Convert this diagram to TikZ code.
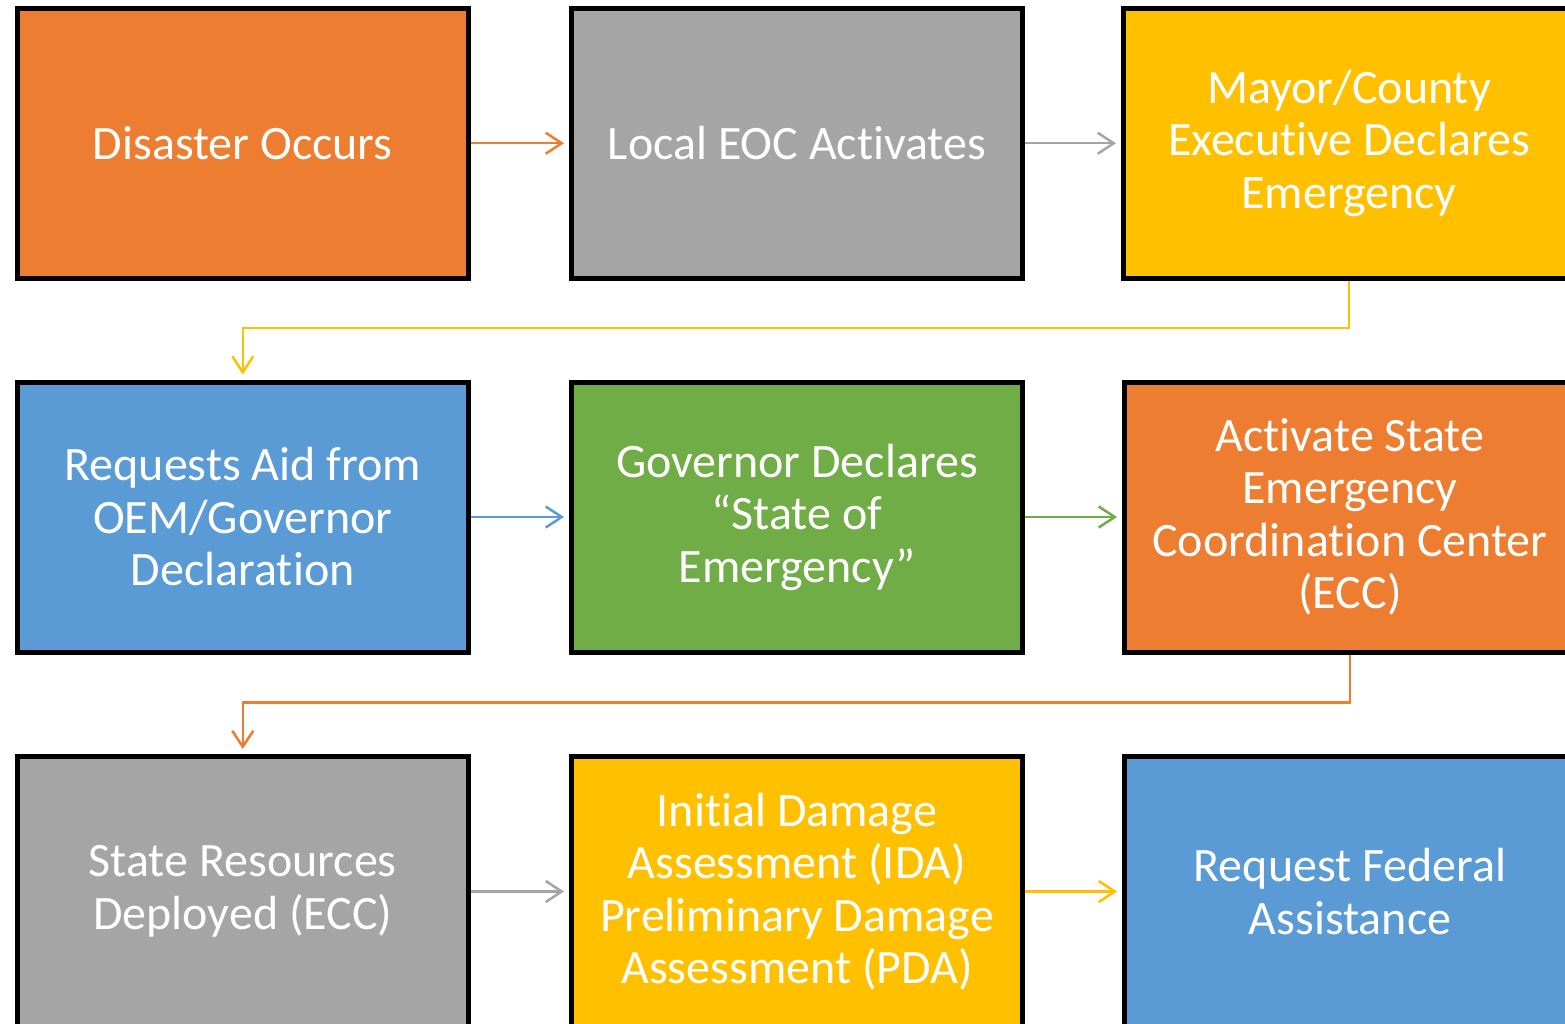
\documentclass[tikz,border=0pt]{standalone}
\usepackage{fontspec}
\setmainfont{Carlito}[Ligatures=NoCommon]
\usetikzlibrary{arrows.meta}
\definecolor{boxorange}{HTML}{ED7D31}
\definecolor{boxgray}{HTML}{A5A5A5}
\definecolor{boxyellow}{HTML}{FFC000}
\definecolor{boxblue}{HTML}{5B9BD5}
\definecolor{boxgreen}{HTML}{70AD47}
\tikzset{
  stepbox/.style={draw=black, line width=5pt, fill=#1, minimum width=451pt, minimum height=270pt,
    inner sep=0pt, align=center, text=white, font=\fontsize{48}{52.5}\selectfont},
  flow/.style={draw=#1, line width=2.5pt, -{Straight Barb[length=16pt,width=21pt]}, shorten >=5pt}
}
\begin{document}
\begin{tikzpicture}[x=1pt,y=-1pt]
        \useasboundingbox (0,0) rectangle (1565,1024);
        \clip (0,0) rectangle (1565,1024);
        \node[stepbox=boxorange] (occurs) at (242.75,143.25) {Disaster Occurs};
        \node[stepbox=boxgray] (eoc) at (797,143.25) {Local EOC Activates};
        \node[stepbox=boxyellow] (mayor) at (1349,143.25) {Mayor/County\\Executive Declares\\Emergency};
        \node[stepbox=boxblue] (aid) at (242.75,517) {Requests Aid from\\OEM/Governor\\Declaration};
        \node[stepbox=boxgreen] (governor) at (797,517) {Governor Declares\\“State of\\Emergency”};
        \node[stepbox=boxorange] (ecc) at (1350,517) {Activate State\\Emergency\\Coordination Center\\(ECC)};
        \node[stepbox=boxgray] (deployed) at (242.75,891.5) {State Resources\\Deployed (ECC)};
        \node[stepbox=boxyellow] (damage) at (797,891.5) {Initial Damage\\Assessment (IDA)\\Preliminary Damage\\Assessment (PDA)};
        \node[stepbox=boxblue] (federal) at (1350,891.5) {Request Federal\\Assistance};
        \draw[flow=boxorange] (occurs.east) -- (eoc.west);
        \draw[flow=boxgray] (eoc.east) -- (mayor.west);
        \draw[flow=boxyellow] (mayor.south) -- ++(0,47) -| (aid.north);
        \draw[flow=boxblue] (aid.east) -- (governor.west);
        \draw[flow=boxgreen] (governor.east) -- (ecc.west);
        \draw[flow=boxorange] (ecc.south) -- ++(0,48) -| (deployed.north);
        \draw[flow=boxgray] (deployed.east) -- (damage.west);
        \draw[flow=boxyellow] (damage.east) -- (federal.west);
    \end{tikzpicture}
\end{document}
